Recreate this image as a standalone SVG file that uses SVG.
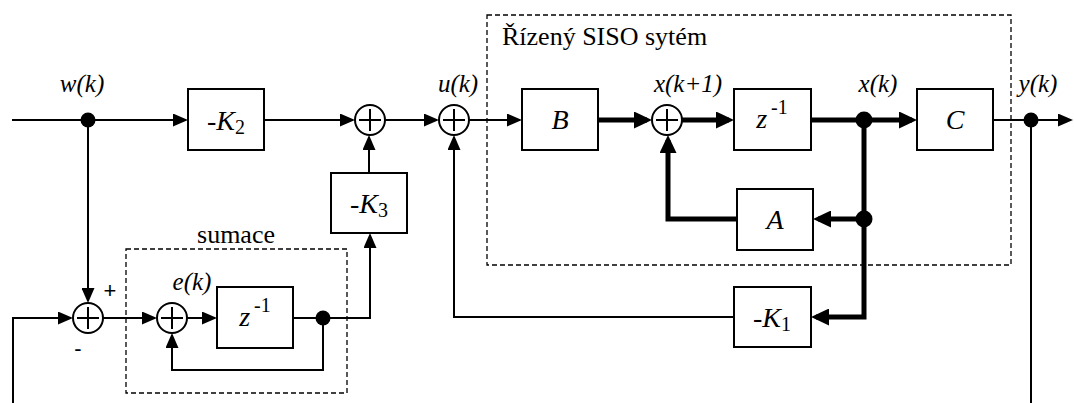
<svg xmlns="http://www.w3.org/2000/svg" width="1074" height="403" viewBox="0 0 1074 403">
<style>
.box{fill:#fff;stroke:#000;stroke-width:2}
.sum{fill:#fff;stroke:#000;stroke-width:2}
.plus{stroke:#000;stroke-width:2;fill:none}
.thin{fill:none;stroke:#000;stroke-width:2;stroke-linejoin:miter}
.thick{fill:none;stroke:#000;stroke-width:5;stroke-linejoin:miter}
.dash{fill:none;stroke:#000;stroke-width:1.3;stroke-dasharray:5 3}
text{font-family:"Liberation Serif","DejaVu Serif",serif}
.lbl{font-style:italic;font-size:25px;fill:#000}
.btx{font-style:italic;font-size:28px;fill:#000;text-anchor:middle}
.up{font-size:26px;fill:#000}
.sub{font-style:normal;font-size:20px}
text.sign{font-family:"Liberation Sans",Arial,sans-serif;font-size:22px;fill:#000;text-anchor:middle}
</style>
<defs>
<marker id="a" markerUnits="userSpaceOnUse" markerWidth="15" markerHeight="13" refX="13" refY="6.5" orient="auto"><path d="M0,0 L15,6.5 L0,13 Z" fill="#000"/></marker>
<marker id="b" markerUnits="userSpaceOnUse" markerWidth="18" markerHeight="17" refX="13" refY="8.5" orient="auto"><path d="M0,0 L18,8.5 L0,17 Z" fill="#000"/></marker>
</defs>

<g id="groups">
<rect class="dash" x="487" y="15" width="524" height="250"/>
<text class="up" x="502" y="45">Řízený SISO sytém</text>
<rect class="dash" x="126" y="249" width="221" height="144"/>
<text class="up" x="236" y="243" text-anchor="middle">sumace</text>
</g>

<g id="connectors">
<path class="thin" d="M12,120 H186" marker-end="url(#a)"/>
<path class="thin" d="M88,120 V301" marker-end="url(#a)"/>
<path class="thin" d="M264,120 H353" marker-end="url(#a)"/>
<path class="thin" d="M385,120 H437" marker-end="url(#a)"/>
<path class="thin" d="M469,120 H520" marker-end="url(#a)"/>
<path class="thin" d="M369,173 V137" marker-end="url(#a)"/>
<path class="thin" d="M734,317 H454 V137" marker-end="url(#a)"/>
<path class="thin" d="M993,120 H1071" marker-end="url(#a)"/>
<path class="thin" d="M1031,120 V403"/>
<path class="thin" d="M13,403 V318 H71" marker-end="url(#a)"/>
<path class="thin" d="M103,318 H155" marker-end="url(#a)"/>
<path class="thin" d="M187,318 H215" marker-end="url(#a)"/>
<path class="thin" d="M293,318 H370 V235" marker-end="url(#a)"/>
<path class="thin" d="M323,318 V370 H172 V335" marker-end="url(#a)"/>
<path class="thick" d="M598,120 H647" marker-end="url(#b)"/>
<path class="thick" d="M682,120 H729" marker-end="url(#b)"/>
<path class="thick" d="M811,120 H912" marker-end="url(#b)"/>
<path class="thick" d="M864,120 V317 H816" marker-end="url(#b)"/>
<path class="thick" d="M864,219 H818" marker-end="url(#b)"/>
<path class="thick" d="M737,219 H668 V140" marker-end="url(#b)"/>
<circle cx="88" cy="120" r="7.5"/>
<circle cx="323" cy="318" r="7.5"/>
<circle cx="1031" cy="120" r="7.5"/>
<circle cx="864" cy="120" r="8.5"/>
<circle cx="864" cy="219" r="8.5"/>
</g>

<g id="labels">
<text class="lbl" x="82" y="92" text-anchor="middle">w(k)</text>
<text class="lbl" x="458" y="92" text-anchor="middle">u(k)</text>
<text class="lbl" x="688" y="92" text-anchor="middle">x(k+1)</text>
<text class="lbl" x="878" y="92" text-anchor="middle">x(k)</text>
<text class="lbl" x="1038" y="92" text-anchor="middle">y(k)</text>
<text class="lbl" x="192" y="290" text-anchor="middle">e(k)</text>
<text class="sign" x="110" y="298">+</text>
<text class="sign" x="78" y="356">-</text>
</g>

<g id="nodes">
<g id="K2"><rect class="box" x="188" y="89" width="76" height="61"/><text class="btx" x="226" y="130"><tspan font-style="normal">-</tspan>K<tspan class="sub" dy="4">2</tspan></text></g>
<g id="sum1"><circle class="sum" cx="370" cy="120" r="15"/><path class="plus" d="M359,120 H381 M370,109 V131"/></g>
<g id="sum2"><circle class="sum" cx="454" cy="120" r="15"/><path class="plus" d="M443,120 H465 M454,109 V131"/></g>
<g id="K3"><rect class="box" x="331" y="173" width="76" height="60"/><text class="btx" x="369" y="213"><tspan font-style="normal">-</tspan>K<tspan class="sub" dy="4">3</tspan></text></g>
<g id="B"><rect class="box" x="522" y="89" width="76" height="61"/><text class="btx" x="560" y="129">B</text></g>
<g id="sum3"><circle class="sum" cx="667" cy="120" r="15"/><path class="plus" d="M656,120 H678 M667,109 V131"/></g>
<g id="z1"><rect class="box" x="734" y="89" width="77" height="61"/><text class="btx" x="772" y="128">z<tspan class="sub" dx="4" dy="-14">-1</tspan></text></g>
<g id="C"><rect class="box" x="917" y="89" width="76" height="61"/><text class="btx" x="955" y="129">C</text></g>
<g id="A"><rect class="box" x="737" y="189" width="76" height="61"/><text class="btx" x="775" y="229">A</text></g>
<g id="K1"><rect class="box" x="734" y="287" width="77" height="60"/><text class="btx" x="772" y="327"><tspan font-style="normal">-</tspan>K<tspan class="sub" dy="4">1</tspan></text></g>
<g id="sum4"><circle class="sum" cx="88" cy="318" r="15"/><path class="plus" d="M77,318 H99 M88,307 V329"/></g>
<g id="sum5"><circle class="sum" cx="172" cy="318" r="15"/><path class="plus" d="M161,318 H183 M172,307 V329"/></g>
<g id="z2"><rect class="box" x="217" y="287" width="76" height="61"/><text class="btx" x="255" y="326">z<tspan class="sub" dx="4" dy="-14">-1</tspan></text></g>
</g>
</svg>
